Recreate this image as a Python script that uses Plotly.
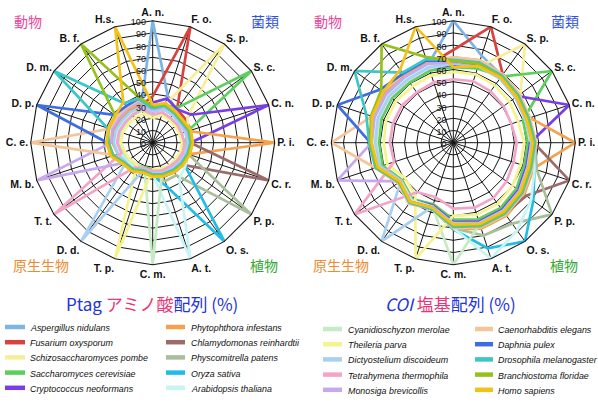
import plotly.graph_objects as go

# Axis labels (clockwise from the top) and species
ABBREV = ["A. n.", "F. o.", "S. p.", "S. c.", "C. n.", "P. i.", "C. r.", "P. p.", "O. s.", "A. t.",
          "C. m.", "T. p.", "D. d.", "T. t.", "M. b.", "C. e.", "D. p.", "D. m.", "B. f.", "H.s."]
SPECIES = ["Aspergillus nidulans", "Fusarium oxysporum", "Schizosaccharomyces pombe",
           "Saccharomyces cerevisiae", "Cryptococcus neoformans", "Phytophthora infestans",
           "Chlamydomonas reinhardtii", "Physcomitrella patens", "Oryza sativa", "Arabidopsis thaliana",
           "Cyanidioschyzon merolae", "Theileria parva", "Dictyostelium discoideum",
           "Tetrahymena thermophila", "Monosiga brevicollis", "Caenorhabditis elegans",
           "Daphnia pulex", "Drosophila melanogaster", "Branchiostoma floridae", "Homo sapiens"]
COLORS = ["#7db4e6", "#d9433f", "#f7ee9a", "#5ccf5c", "#7a3ce6", "#f4a24e", "#9b6b6b", "#a8bf9a",
          "#21bde6", "#c8f4f6", "#c5ebc5", "#f6f38e", "#a9cff2", "#f2a5c8", "#c7a7ee", "#f5c59a",
          "#3d6de0", "#3cc6c6", "#96c01e", "#f2c21a"]
RADIAL_TICKS = [0, 10, 20, 30, 40, 50, 60, 70, 80, 90, 100]

# Ptag amino-acid identity (%) of each species against every axis species
ptag_An = [100, 40, 33, 31, 32, 30, 28, 27, 26, 25, 24, 23, 25, 26, 28, 31, 32, 31, 31, 31]
ptag_Fo = [38, 100, 34, 33, 33, 30, 29, 28, 27, 26, 25, 24, 25, 27, 29, 32, 33, 32, 31, 32]
ptag_Sp = [30, 33, 100, 35, 31, 28, 27, 26, 25, 24, 23, 22, 24, 25, 27, 30, 30, 29, 29, 29]
ptag_Sc = [29, 32, 36, 100, 30, 27, 26, 25, 24, 24, 22, 21, 23, 24, 26, 29, 29, 28, 28, 28]
ptag_Cn = [33, 38, 34, 39, 100, 31, 29, 28, 27, 26, 25, 23, 25, 27, 29, 32, 33, 32, 32, 32]
ptag_Pi = [28, 31, 30, 29, 31, 100, 31, 29, 28, 27, 25, 25, 26, 28, 30, 33, 33, 32, 33, 33]
ptag_Cr = [27, 30, 29, 28, 30, 31, 100, 31, 30, 29, 26, 24, 26, 27, 29, 32, 32, 31, 31, 31]
ptag_Pp = [27, 30, 29, 28, 29, 30, 31, 100, 33, 33, 27, 24, 26, 27, 29, 31, 32, 31, 31, 31]
ptag_Os = [26, 29, 28, 28, 29, 29, 30, 33, 100, 38, 27, 24, 25, 26, 28, 31, 31, 30, 31, 30]
ptag_At = [26, 29, 28, 27, 28, 29, 30, 33, 37, 100, 26, 24, 25, 26, 28, 30, 31, 30, 30, 30]
ptag_Cm = [22, 26, 25, 24, 25, 26, 27, 26, 25, 25, 100, 22, 23, 24, 26, 28, 28, 27, 28, 28]
ptag_Tp = [20, 24, 23, 23, 23, 24, 24, 23, 23, 22, 22, 100, 22, 23, 24, 26, 26, 25, 25, 25]
ptag_Dd = [25, 29, 28, 27, 28, 29, 28, 27, 26, 26, 24, 23, 100, 27, 30, 32, 32, 31, 31, 31]
ptag_Tt = [23, 26, 25, 25, 25, 26, 26, 25, 24, 24, 23, 22, 25, 100, 27, 29, 29, 28, 28, 29]
ptag_Mb = [27, 31, 30, 29, 30, 31, 30, 29, 28, 27, 26, 24, 27, 28, 100, 34, 35, 34, 35, 35]
ptag_Ce = [28, 32, 31, 30, 31, 32, 31, 30, 29, 28, 26, 24, 27, 28, 33, 100, 37, 36, 36, 37]
ptag_Dp = [29, 33, 31, 30, 32, 32, 31, 30, 29, 28, 27, 25, 28, 29, 34, 37, 100, 39, 37, 38]
ptag_Dm = [28, 32, 30, 29, 31, 31, 30, 29, 28, 27, 26, 24, 27, 28, 34, 36, 39, 100, 40, 38]
ptag_Bf = [30, 33, 31, 30, 32, 32, 31, 30, 29, 28, 27, 25, 28, 29, 35, 37, 38, 38, 100, 40]
ptag_Hs = [31, 34, 32, 31, 33, 33, 32, 31, 30, 29, 28, 26, 29, 30, 36, 38, 38, 38, 41, 100]

# COI nucleotide identity (%)
coi_An = [100, 75, 68, 66, 64, 66, 66, 69, 71, 71, 67, 56, 60, 54, 65, 66, 67, 67, 66, 67]
coi_Fo = [76, 100, 69, 67, 65, 67, 66, 69, 71, 71, 68, 56, 60, 55, 65, 66, 67, 67, 66, 67]
coi_Sp = [63, 65, 100, 68, 61, 62, 62, 65, 67, 67, 64, 54, 57, 52, 62, 62, 63, 63, 62, 63]
coi_Sc = [62, 64, 67, 100, 60, 61, 61, 64, 66, 66, 63, 53, 57, 52, 61, 61, 62, 62, 61, 62]
coi_Cn = [64, 66, 66, 65, 100, 63, 63, 66, 68, 68, 65, 54, 58, 53, 63, 64, 64, 64, 63, 64]
coi_Pi = [70, 71, 69, 67, 66, 100, 69, 72, 74, 74, 71, 57, 61, 56, 67, 68, 69, 69, 68, 69]
coi_Cr = [66, 67, 66, 64, 63, 66, 100, 74, 72, 72, 68, 55, 59, 54, 64, 65, 66, 66, 65, 66]
coi_Pp = [68, 69, 67, 65, 64, 67, 72, 100, 82, 80, 70, 56, 60, 55, 65, 66, 67, 67, 66, 67]
coi_Os = [68, 69, 67, 65, 64, 67, 70, 81, 100, 91, 71, 56, 60, 55, 65, 66, 67, 67, 66, 67]
coi_At = [67, 68, 66, 64, 63, 66, 70, 79, 89, 100, 70, 56, 59, 54, 64, 65, 66, 66, 65, 66]
coi_Cm = [65, 66, 65, 63, 62, 64, 66, 69, 70, 70, 100, 55, 58, 53, 63, 63, 64, 64, 63, 64]
coi_Tp = [58, 59, 58, 57, 56, 58, 58, 60, 62, 62, 60, 100, 53, 49, 57, 57, 58, 58, 57, 58]
coi_Dd = [65, 66, 65, 63, 62, 64, 64, 67, 69, 69, 66, 55, 100, 53, 63, 64, 65, 65, 64, 65]
coi_Tt = [52, 53, 52, 51, 50, 52, 52, 54, 56, 56, 54, 47, 50, 100, 51, 52, 52, 52, 51, 52]
coi_Mb = [66, 67, 66, 64, 63, 65, 65, 68, 70, 70, 67, 56, 60, 54, 100, 67, 68, 68, 67, 68]
coi_Ce = [70, 71, 69, 67, 66, 68, 68, 71, 73, 73, 70, 57, 62, 56, 67, 100, 70, 71, 70, 71]
coi_Dp = [67, 68, 67, 65, 64, 66, 66, 69, 71, 71, 68, 56, 60, 55, 66, 68, 100, 74, 70, 71]
coi_Dm = [68, 69, 68, 66, 65, 67, 67, 70, 72, 72, 69, 57, 61, 55, 67, 69, 75, 100, 71, 72]
coi_Bf = [67, 68, 67, 65, 64, 66, 66, 69, 71, 71, 68, 56, 60, 55, 66, 68, 71, 73, 100, 74]
coi_Hs = [62, 66, 66, 64, 63, 65, 65, 68, 70, 70, 67, 56, 60, 54, 65, 67, 70, 71, 74, 100]

PTAG = [ptag_An, ptag_Fo, ptag_Sp, ptag_Sc, ptag_Cn, ptag_Pi, ptag_Cr, ptag_Pp, ptag_Os, ptag_At,
        ptag_Cm, ptag_Tp, ptag_Dd, ptag_Tt, ptag_Mb, ptag_Ce, ptag_Dp, ptag_Dm, ptag_Bf, ptag_Hs]
COI = [coi_An, coi_Fo, coi_Sp, coi_Sc, coi_Cn, coi_Pi, coi_Cr, coi_Pp, coi_Os, coi_At,
       coi_Cm, coi_Tp, coi_Dd, coi_Tt, coi_Mb, coi_Ce, coi_Dp, coi_Dm, coi_Bf, coi_Hs]

W, H = 598, 402
TEXT_FONT = "Liberation Sans, Arial, sans-serif"
CJK_FONT = "Noto Sans CJK JP, sans-serif"

fig = go.Figure()

for matrix, subplot in ((PTAG, "polar"), (COI, "polar2")):
    for name, color, row in zip(SPECIES, COLORS, matrix):
        fig.add_trace(go.Scatterpolar(
            r=row + row[:1], theta=ABBREV + ABBREV[:1], mode="lines",
            line=dict(color=color, width=2.7), name=name, subplot=subplot,
            showlegend=False, hoverinfo="name+theta+r"))


def polar_layout(cx):
    rad = 122
    cy = 142.7
    return dict(
        domain=dict(x=[(cx - rad) / W, (cx + rad) / W], y=[1 - (cy + rad) / H, 1 - (cy - rad) / H]),
        gridshape="linear", bgcolor="white",
        angularaxis=dict(direction="clockwise", rotation=90, type="category",
                         categoryorder="array", categoryarray=ABBREV,
                         linecolor="#151515", linewidth=1.1, gridcolor="#151515", gridwidth=1.1,
                         ticks="", tickfont=dict(family=TEXT_FONT, size=10.5, color="#111",
                                                 weight="bold")),
        radialaxis=dict(range=[0, 100], tickvals=RADIAL_TICKS, angle=90, side="counterclockwise",
                        showline=False, gridcolor="#151515", gridwidth=1.1, ticks="",
                        tickfont=dict(family=TEXT_FONT, size=9, color="#111")),
    )


annotations = []
for off in (0, 300):
    for text, x, y, color in (("動物", 28, 21, "#e8449a"), ("菌類", 265, 21, "#3355dd"),
                              ("原生生物", 41, 265, "#f08a30"), ("植物", 264, 265, "#30a830")):
        annotations.append(dict(text=text, x=(x + off) / W, y=1 - y / H, xref="paper", yref="paper",
                                showarrow=False, xanchor="center", yanchor="middle",
                                font=dict(family=CJK_FONT, size=14, color=color)))

BLUE, PINK = "#2233dd", "#ee3377"
for text, x in ((f"<span style='color:{BLUE}'>Ptag </span><span style='color:{PINK}'>アミノ酸</span>"
                 f"<span style='color:{BLUE}'>配列 (%)</span>", 152),
                (f"<span style='color:{BLUE}'><i>COI</i> </span><span style='color:{PINK}'>塩基</span>"
                 f"<span style='color:{BLUE}'>配列 (%)</span>", 450)):
    annotations.append(dict(text=text, x=x / W, y=1 - 303 / H, xref="paper", yref="paper",
                            showarrow=False, xanchor="center", yanchor="middle",
                            font=dict(family=CJK_FONT, size=17)))

# Species key: four columns of five entries
COLUMNS = [(5, 25, 28, 328), (166, 185, 189, 328), (323, 342, 346, 330), (475, 493, 496, 330)]
ROW_STEP = 15.2
shapes = []
for i, (name, color) in enumerate(zip(SPECIES, COLORS)):
    x0, x1, xt, y0 = COLUMNS[i // 5]
    y = y0 + (i % 5) * ROW_STEP
    shapes.append(dict(type="line", xref="paper", yref="paper", x0=x0 / W, x1=x1 / W,
                       y0=1 - (y - 1) / H, y1=1 - (y - 1) / H, line=dict(color=color, width=4.5)))
    annotations.append(dict(text=f"<i>{name}</i>", x=xt / W, y=1 - y / H, xref="paper", yref="paper",
                            showarrow=False, xanchor="left", yanchor="middle",
                            font=dict(family=TEXT_FONT, size=8.9, color="#111")))

fig.update_layout(
    width=W, height=H, margin=dict(l=0, r=0, t=0, b=0),
    paper_bgcolor="white", plot_bgcolor="white",
    polar=polar_layout(152.7), polar2=polar_layout(453.3),
    annotations=annotations, shapes=shapes, showlegend=False,
)

fig.write_html("out.html")
